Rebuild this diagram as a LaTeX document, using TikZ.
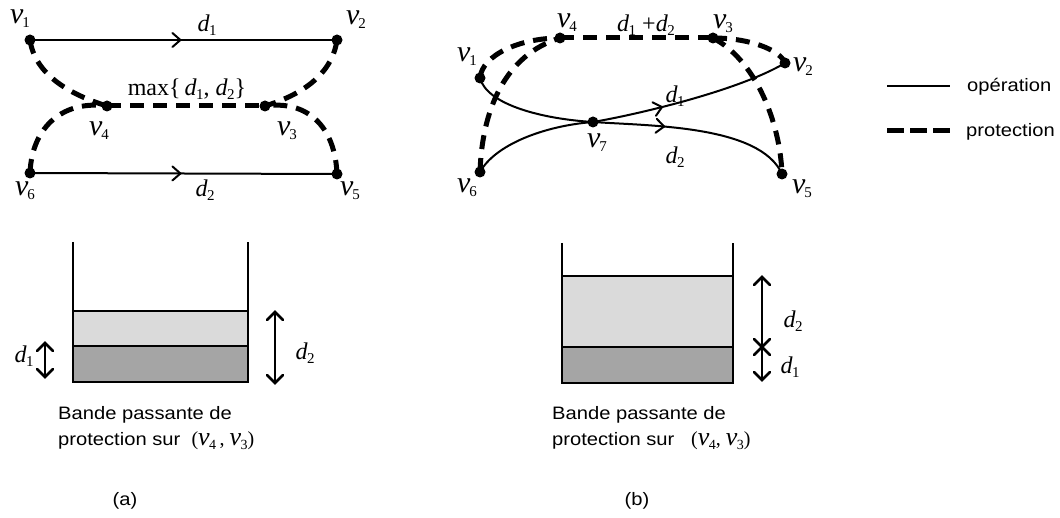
\documentclass[tikz,border=0pt]{standalone}
\usepackage{fontspec}
\setmainfont{Liberation Serif}
\newfontfamily\lsans[FakeStretch=1.12]{Liberation Sans}
\usetikzlibrary{decorations.markings}
\definecolor{lightbar}{RGB}{218,218,218}
\definecolor{darkbar}{RGB}{165,165,165}
\newcommand\vlab[1]{{\fontsize{30}{30}\selectfont\itshape v}\kern-1pt\raisebox{-4pt}{\fontsize{15}{15}\selectfont #1}}
\newcommand\vsm[1]{{\fontsize{26}{26}\selectfont\itshape v}\kern-0.5pt\raisebox{-4pt}{\fontsize{14}{14}\selectfont #1}}
\newcommand\dlab[1]{{\itshape d}\kern-0.5pt\raisebox{-4pt}{\fontsize{15}{15}\selectfont #1}}
\begin{document}
\begin{tikzpicture}[x=1pt,y=-1pt,font=\fontsize{24}{26}\selectfont,
  dot/.style={circle,fill=black,inner sep=0pt,minimum size=11pt},
  oper/.style={line width=2pt},
  prot/.style={line width=5pt,dash pattern=on 14pt off 9pt},
  lab/.style={inner sep=0pt},
  barline/.style={line width=2.2pt},
  dim/.style={line width=2.5pt},
  txt/.style={inner sep=0pt,anchor=base west,font=\lsans\fontsize{18}{20}\selectfont},
  barb/.style={line width=2pt,line cap=round,line join=miter},
  midarrow/.style={postaction={decorate,decoration={markings,mark=at position #1 with {\draw[barb] (-8pt,7pt) -- (0pt,0pt) -- (-8pt,-7pt);}}}},
  endbarbs/.style={postaction={decorate,decoration={markings,
     mark=at position 0 with {\draw[line width=2.5pt,line cap=round] (8pt,8pt) -- (0pt,0pt) -- (8pt,-8pt);},
     mark=at position 1 with {\draw[line width=2.5pt,line cap=round] (-8pt,8pt) -- (0pt,0pt) -- (-8pt,-8pt);}}}}
]
\useasboundingbox (0,0) rectangle (1060,518);

% ---------- (a) graph ----------
\node[dot] (a1) at (30,40) {};
\node[dot] (a2) at (337,40) {};
\node[dot] (a3) at (265,106) {};
\node[dot] (a4) at (107,106) {};
\node[dot] (a5) at (337,174) {};
\node[dot] (a6) at (30,173) {};

\draw[oper,midarrow=0.49] (a1.center) -- (a2.center);
\draw[oper,midarrow=0.49] (a6.center) -- (a5.center);
\draw[prot] (a1.center) .. controls +(5,35) and +(-36,-11) .. (a4.center);
\draw[prot] (a6.center) .. controls +(2,-48) and +(-42,-6) .. (a4.center);
\draw[prot] (a4.center) -- (a3.center);
\draw[prot] (a2.center) .. controls +(-5,35) and +(36,-11) .. (a3.center);
\draw[prot] (a5.center) .. controls +(-2,-48) and +(42,-6) .. (a3.center);

\node[lab] (la1) at (20,19) {\vlab{1}};
\node[lab] (la2) at (356,20) {\vlab{2}};
\node[lab] (la3) at (287,131) {\vlab{3}};
\node[lab] (la4) at (99,131) {\vlab{4}};
\node[lab] (la5) at (350,191) {\vlab{5}};
\node[lab] (la6) at (25,191) {\vlab{6}};
\node[lab] (lad1) at (207,25) {\dlab{1}};
\node[lab] (lad2) at (205,190) {\dlab{2}};
\node[lab] (lamax) at (187,89) {max\{\,\dlab{1}, \dlab{2}\}};

% ---------- (b) graph ----------
\node[dot] (b1) at (480,78) {};
\node[dot] (b2) at (785,63) {};
\node[dot] (b3) at (713,38) {};
\node[dot] (b4) at (560,38) {};
\node[dot] (b5) at (782,174) {};
\node[dot] (b6) at (480,172) {};
\node[dot] (b7) at (593,122) {};

\draw[oper] (b1.center) .. controls +(7,27) and +(-50,-3) .. (b7.center);
\draw[oper,midarrow=0.35] (b7.center) .. controls +(47,-8) and +(-45,27) .. (b2.center);
\draw[oper] (b6.center) .. controls +(15,-27) and +(-50,4) .. (b7.center);
\draw[oper,midarrow=0.35] (b7.center) .. controls +(57,4) and +(-22,-49) .. (b5.center);

\draw[prot] (b1.center) .. controls +(2,-23) and +(-40,0) .. (b4.center);
\draw[prot] (b6.center) .. controls +(2,-62) and +(-55,17) .. (b4.center);
\draw[prot] (b4.center) -- (b3.center);
\draw[prot] (b3.center) .. controls +(37,0) and +(-5,-13) .. (b2.center);
\draw[prot] (b3.center) .. controls +(42,22) and +(-2,-53) .. (b5.center);

\node[lab] (lb1) at (467,57) {\vlab{1}};
\node[lab] (lb2) at (803,67) {\vlab{2}};
\node[lab] (lb3) at (723,24) {\vlab{3}};
\node[lab] (lb4) at (567,23) {\vlab{4}};
\node[lab] (lb5) at (802,189) {\vlab{5}};
\node[lab] (lb6) at (467,188) {\vlab{6}};
\node[lab] (lb7) at (597,143) {\vlab{7}};
\node[lab] (lbd1) at (675,96) {\dlab{1}};
\node[lab] (lbd2) at (675,157) {\dlab{2}};
\node[lab] (lbsum) at (646,25) {\dlab{1} +\dlab{2}};

% ---------- legend ----------
\coordinate (lg1a) at (887,86);
\coordinate (lg1b) at (950,86);
\coordinate (lg2a) at (887,131);
\coordinate (lg2b) at (950,131);
\draw[oper] (lg1a) -- (lg1b);
\draw[line width=5pt,dash pattern=on 17pt off 6pt] (lg2a) -- (lg2b);
\node[txt,anchor=west] (lgt1) at (967,87) {opération};
\node[txt,anchor=west] (lgt2) at (966,132) {protection};

% ---------- (a) bars ----------
\fill[lightbar] (73,311) rectangle (248,346);
\fill[darkbar] (73,346) rectangle (248,382);
\draw[barline] (73,242) -- (73,382) -- (248,382) -- (248,242);
\draw[barline] (73,311) -- (248,311);
\draw[barline] (73,346) -- (248,346);
\coordinate (ad1t) at (45,343);
\coordinate (ad1b) at (45,377);
\coordinate (ad2t) at (275,312);
\coordinate (ad2b) at (275,383);
\draw[dim,endbarbs] (ad1t) -- (ad1b);
\draw[dim,endbarbs] (ad2t) -- (ad2b);
\node[lab] (lbar1) at (24,356) {\dlab{1}};
\node[lab] (lbar2) at (305,353) {\dlab{2}};
\node[txt] (ta1) at (58,419) {Bande passante de};
\node[txt] (ta2) at (58,445) {protection sur\ \ {\rmfamily\fontsize{20}{22}\selectfont(\vsm{4}\,, \vsm{3})}};
\node[lab,font=\lsans\fontsize{18}{20}\selectfont] (capa) at (125,501) {(a)};

% ---------- (b) bars ----------
\fill[lightbar] (562,276) rectangle (733,347);
\fill[darkbar] (562,347) rectangle (733,383);
\draw[barline] (562,243) -- (562,383) -- (733,383) -- (733,243);
\draw[barline] (562,276) -- (733,276);
\draw[barline] (562,347) -- (733,347);
\coordinate (bd2t) at (762,277);
\coordinate (bdm) at (762,347);
\coordinate (bd1b) at (762,380);
\draw[dim,endbarbs] (bd2t) -- (bdm);
\draw[dim,endbarbs] (bdm) -- (bd1b);
\node[lab] (lbbar2) at (793,321) {\dlab{2}};
\node[lab] (lbbar1) at (790,367) {\dlab{1}};
\node[txt] (tb1) at (552,419) {Bande passante de};
\node[txt] (tb2) at (552,445) {protection sur\ \ \ {\rmfamily\fontsize{20}{22}\selectfont(\vsm{4}, \vsm{3})}};
\node[lab,font=\lsans\fontsize{18}{20}\selectfont] (capb) at (637,501) {(b)};
\end{tikzpicture}
\end{document}
